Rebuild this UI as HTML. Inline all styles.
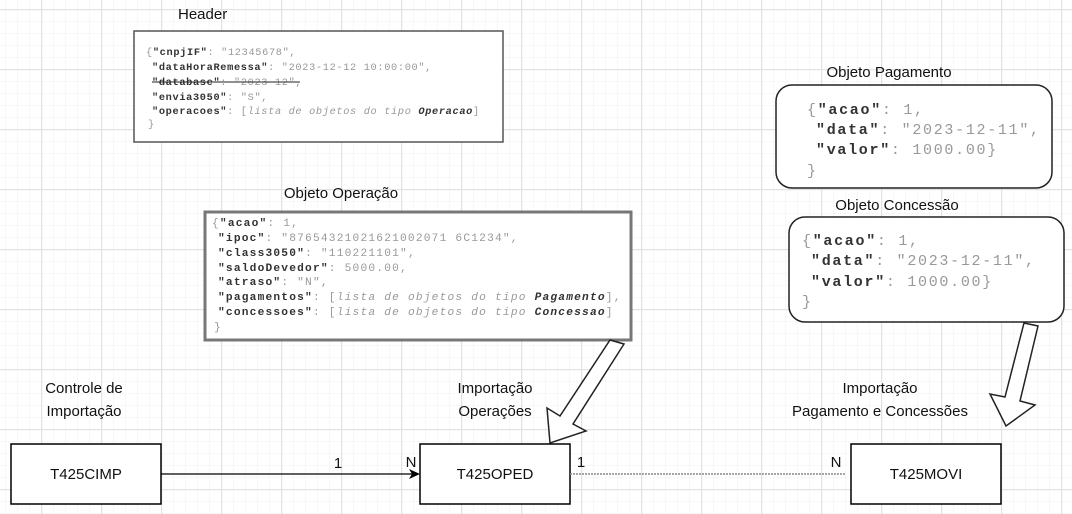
<!DOCTYPE html>
<html><head><meta charset="utf-8"><style>
html,body{margin:0;padding:0;background:#fff}
svg{display:block}
.lbl{font-family:"Liberation Sans",sans-serif;font-size:15px;fill:#111}
.m{font-family:"Liberation Mono",monospace}
.k{font-weight:bold;fill:#333}
.v{fill:#999}
</style></head><body>
<svg width="1072" height="514" xmlns="http://www.w3.org/2000/svg">
<defs>
<pattern id="mn" width="12" height="12" patternUnits="userSpaceOnUse" x="5" y="9">
<path d="M0 0H12M0 0V12" stroke="#f0f0f0" stroke-width="1" fill="none"/></pattern>
<pattern id="mj" width="60" height="60" patternUnits="userSpaceOnUse" x="41" y="9">
<path d="M0 0.5H60M0.5 0V60" stroke="#e2e2e2" stroke-width="1.5" fill="none"/></pattern>
</defs>
<rect width="1072" height="514" fill="url(#mn)"/>
<rect width="1072" height="514" fill="url(#mj)"/>

<!-- Header -->
<text x="178" y="19" class="lbl">Header</text>
<rect x="134" y="31" width="369" height="111" fill="#fff" stroke="#555" stroke-width="1.5"/>
<g class="m" font-size="10.3px" letter-spacing="0.65">
<text x="146" y="55"><tspan class="v">{</tspan><tspan class="k">"cnpjIF"</tspan><tspan class="v">: "12345678",</tspan></text>
<text x="152" y="70"><tspan class="k">"dataHoraRemessa"</tspan><tspan class="v">: "2023-12-12 10:00:00",</tspan></text>
<text x="152" y="85"><tspan class="k">"database"</tspan><tspan class="v">: "2023-12",</tspan></text>
<line x1="152" y1="82" x2="300" y2="82" stroke="#222" stroke-width="1"/>
<text x="152" y="100"><tspan class="k">"envia3050"</tspan><tspan class="v">: "S",</tspan></text>
<text x="152" y="114"><tspan class="k">"operacoes"</tspan><tspan class="v">: [</tspan><tspan class="v" font-style="italic">lista de objetos do tipo </tspan><tspan class="k" font-style="italic">Operacao</tspan><tspan class="v">]</tspan></text>
<text x="148" y="127" class="v">}</text>
</g>

<!-- Operacao -->
<text x="341" y="198" class="lbl" text-anchor="middle">Objeto Operação</text>
<rect x="205" y="212" width="426" height="128" fill="#fff" stroke="#777" stroke-width="3"/>
<g class="m" font-size="11.2px" letter-spacing="1.2">
<text x="212" y="226"><tspan class="v">{</tspan><tspan class="k">"acao"</tspan><tspan class="v">: 1,</tspan></text>
<text x="218" y="241"><tspan class="k">"ipoc"</tspan><tspan class="v">: "87654321021621002071 6C1234",</tspan></text>
<text x="218" y="256"><tspan class="k">"class3050"</tspan><tspan class="v">: "110221101",</tspan></text>
<text x="218" y="271"><tspan class="k">"saldoDevedor"</tspan><tspan class="v">: 5000.00,</tspan></text>
<text x="218" y="285"><tspan class="k">"atraso"</tspan><tspan class="v">: "N",</tspan></text>
<text x="218" y="300"><tspan class="k">"pagamentos"</tspan><tspan class="v">: [</tspan><tspan class="v" font-style="italic">lista de objetos do tipo </tspan><tspan class="k" font-style="italic">Pagamento</tspan><tspan class="v">],</tspan></text>
<text x="218" y="315"><tspan class="k">"concessoes"</tspan><tspan class="v">: [</tspan><tspan class="v" font-style="italic">lista de objetos do tipo </tspan><tspan class="k" font-style="italic">Concessao</tspan><tspan class="v">]</tspan></text>
<text x="214" y="330" class="v">}</text>
</g>

<!-- Pagamento -->
<text x="889" y="77" class="lbl" text-anchor="middle">Objeto Pagamento</text>
<rect x="776" y="85" width="276" height="103" rx="16" fill="#fff" stroke="#222" stroke-width="1.5"/>
<g class="m" font-size="15px" letter-spacing="1.7">
<text x="807" y="114"><tspan class="v">{</tspan><tspan class="k">"acao"</tspan><tspan class="v">: 1,</tspan></text>
<text x="816" y="134"><tspan class="k">"data"</tspan><tspan class="v">: "2023-12-11",</tspan></text>
<text x="816" y="154"><tspan class="k">"valor"</tspan><tspan class="v">: 1000.00}</tspan></text>
<text x="807" y="175" class="v">}</text>
</g>

<!-- Concessao -->
<text x="897" y="210" class="lbl" text-anchor="middle">Objeto Concessão</text>
<rect x="789" y="217" width="275" height="105" rx="16" fill="#fff" stroke="#222" stroke-width="1.5"/>
<g class="m" font-size="15px" letter-spacing="1.7">
<text x="802" y="245"><tspan class="v">{</tspan><tspan class="k">"acao"</tspan><tspan class="v">: 1,</tspan></text>
<text x="811" y="265"><tspan class="k">"data"</tspan><tspan class="v">: "2023-12-11",</tspan></text>
<text x="811" y="286"><tspan class="k">"valor"</tspan><tspan class="v">: 1000.00}</tspan></text>
<text x="802" y="306" class="v">}</text>
</g>

<!-- block arrows -->
<polygon points="610,340 624,344 573,424 586,431 550,443 547,408 560,416" fill="#fff" stroke="#222" stroke-width="1.5" stroke-linejoin="miter"/>
<polygon points="1024,323 1038,326 1020,401 1035,405 1006,426 990,394 1005,397" fill="#fff" stroke="#222" stroke-width="1.5"/>

<!-- labels -->
<text x="84" y="393" class="lbl" text-anchor="middle">Controle de</text>
<text x="84" y="416" class="lbl" text-anchor="middle">Importação</text>
<text x="495" y="393" class="lbl" text-anchor="middle">Importação</text>
<text x="495" y="416" class="lbl" text-anchor="middle">Operações</text>
<text x="880" y="393" class="lbl" text-anchor="middle">Importação</text>
<text x="880" y="416" class="lbl" text-anchor="middle">Pagamento e Concessões</text>

<!-- entities -->
<rect x="11" y="444" width="150" height="60" fill="#fff" stroke="#000" stroke-width="1.5"/>
<text x="86" y="479" class="lbl" text-anchor="middle">T425CIMP</text>
<rect x="420" y="444" width="150" height="60" fill="#fff" stroke="#000" stroke-width="1.5"/>
<text x="495" y="479" class="lbl" text-anchor="middle">T425OPED</text>
<rect x="851" y="444" width="150" height="60" fill="#fff" stroke="#000" stroke-width="1.5"/>
<text x="926" y="479" class="lbl" text-anchor="middle">T425MOVI</text>

<!-- connectors -->
<line x1="161" y1="474" x2="412" y2="474" stroke="#000" stroke-width="1.2"/>
<polygon points="420,474 409,469 412,474 409,479" fill="#000"/>
<text x="338" y="468" class="lbl" text-anchor="middle">1</text>
<text x="411" y="467" class="lbl" text-anchor="middle">N</text>
<line x1="570" y1="474" x2="845" y2="474" stroke="#888" stroke-width="1.5" stroke-dasharray="2,1"/>
<text x="581" y="467" class="lbl" text-anchor="middle">1</text>
<text x="836" y="467" class="lbl" text-anchor="middle">N</text>
</svg>
</body></html>
